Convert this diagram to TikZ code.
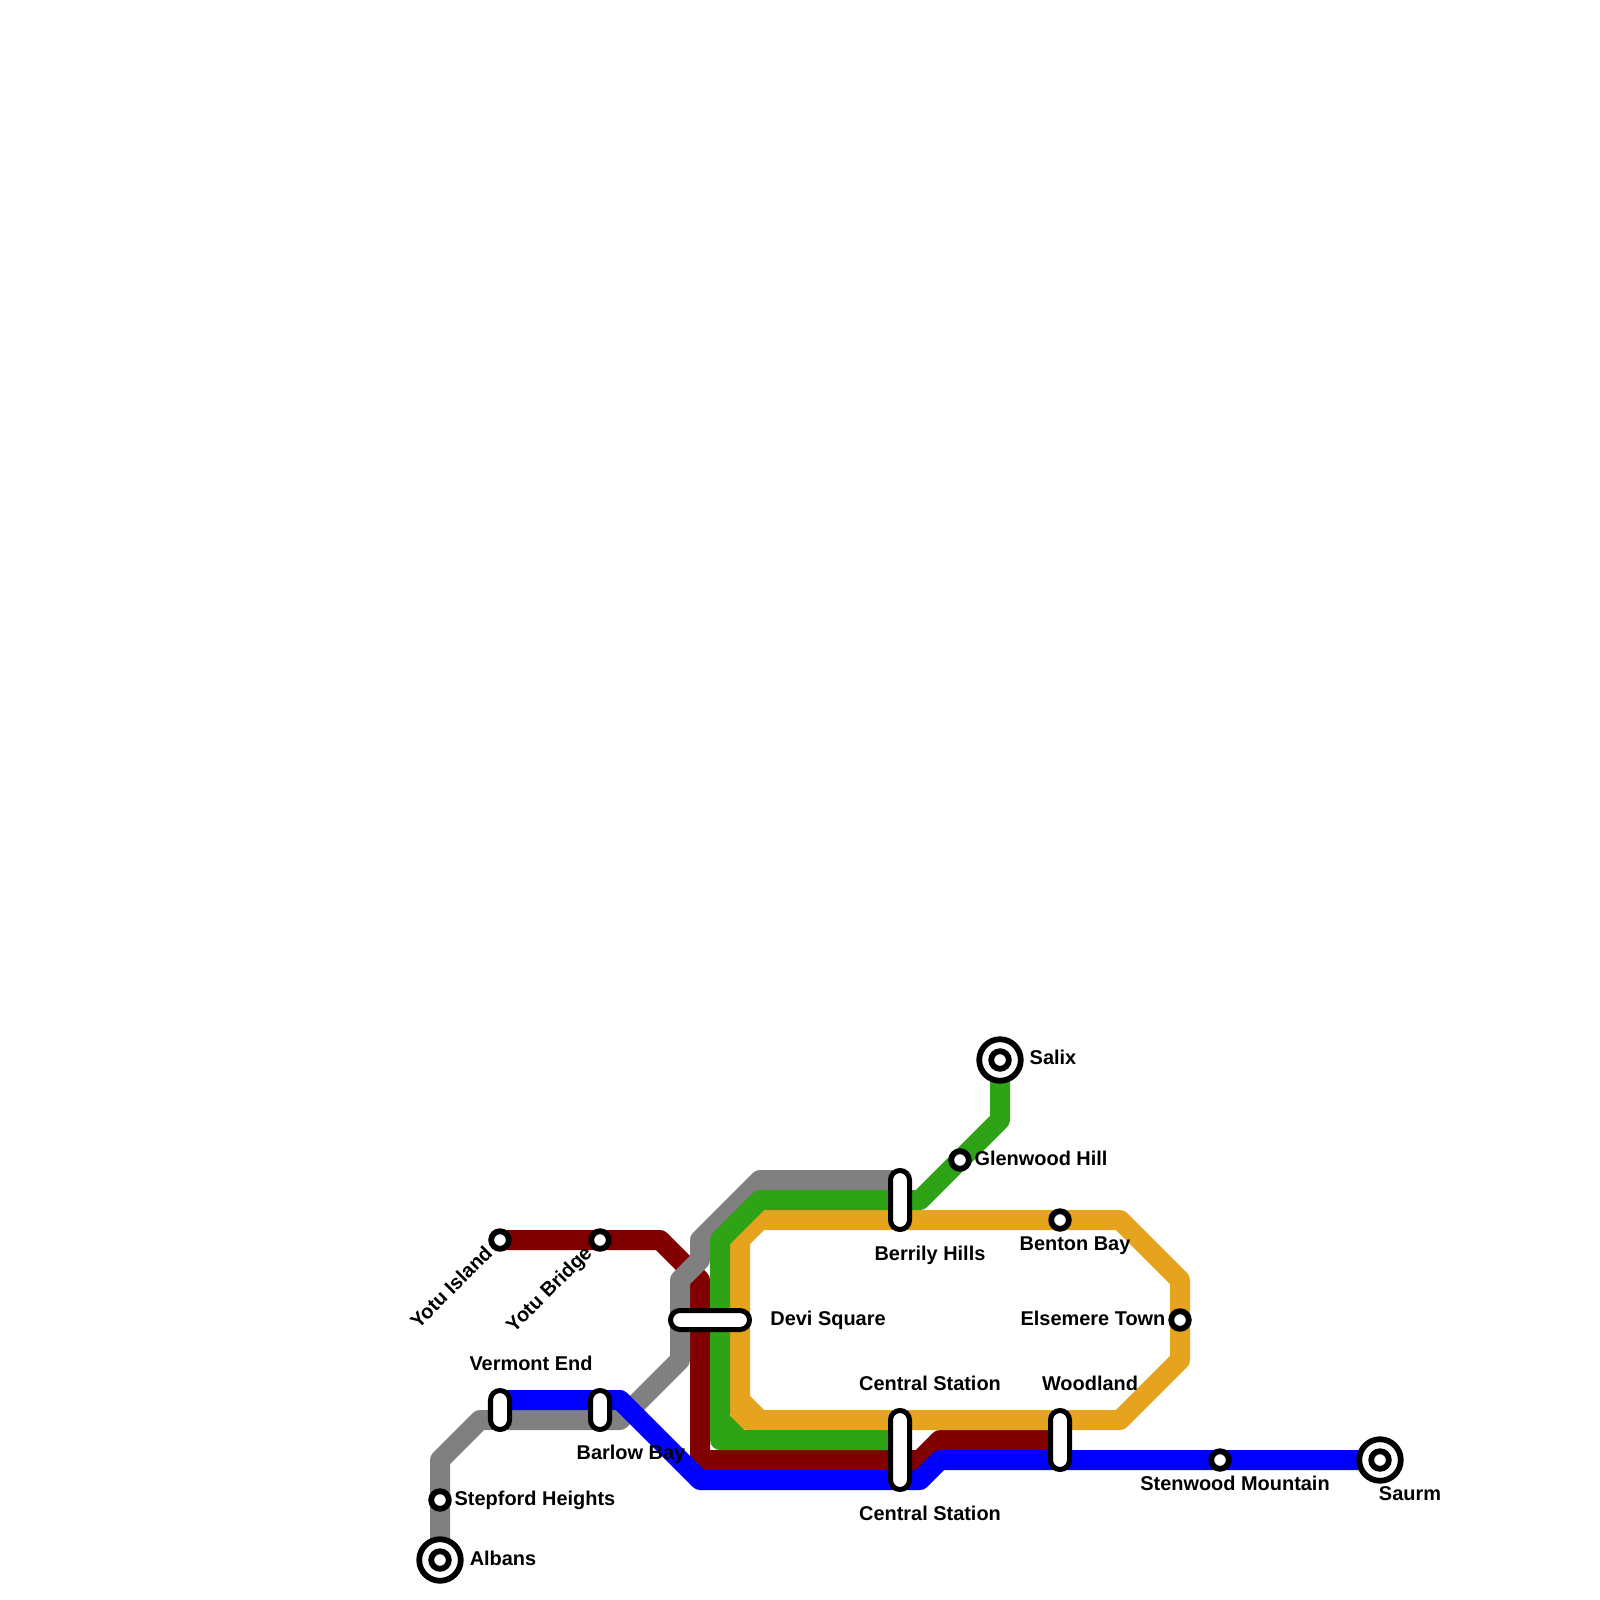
\documentclass[tikz,border=0pt]{standalone}
\usepackage{xcolor}
\usepackage{fontspec}
\setmainfont{Liberation Sans}
\usetikzlibrary{backgrounds}

\begin{document}
\begin{tikzpicture}[x=0.01cm, y=-0.01cm,
    every node/.style={align=center},
    metro/.style={line width=0.2cm, line join=round},
    stopdot/.style={circle, draw=black, fill=white, line width=0.058cm, minimum size=0.176cm, inner sep=0pt},
    stopend/.style={circle, draw=black, fill=white, line width=0.058cm, minimum size=0.415cm, inner sep=0pt},
    capsule/.style={rectangle, draw=black, fill=white, line width=0.05cm, rounded corners=0.095cm, inner sep=0pt},
    upright/.style={capsule, minimum width=0.19cm, minimum height=#1},
    lying/.style={capsule, minimum height=0.19cm, minimum width=#1},
    stoplabel/.style={anchor=base, inner sep=0pt, font=\fontsize{5.67}{7}\selectfont\bfseries}]
      \definecolor{linered}{HTML}{800000} \colorlet{linegrey}{black!50}
      \definecolor{linegreen}{HTML}{2EA316} \definecolor{lineorange}{HTML}{E6A31E}
      \colorlet{lineblue}{blue}
      \useasboundingbox (0, 0) rectangle (1600, 1600);

      % termini
      \foreach \stn/\x/\y in {albans/440/1560, salix/1000/1060, saurm/1380/1460} {
        \node[stopend] (\stn) at (\x, \y) {};
        \node[stopdot] (\stn dot) at (\x, \y) {};
      }
      % plain stops
      \foreach \stn/\x/\y in {yotuisland/500/1240, yotubridge/600/1240, stepford/440/1500,
          glenwood/960/1160, benton/1060/1220, elsemere/1180/1320, stenwood/1220/1460} {
        \node[stopdot] (\stn) at (\x, \y) {};
      }
      % interchanges
      \node[upright=0.39cm] (vermont) at (500, 1410) {};
      \node[upright=0.39cm] (barlow) at (600, 1410) {};
      \node[lying=0.79cm] (devi) at (710, 1320) {};
      \node[upright=0.59cm] (berrily) at (900, 1200) {};
      \node[upright=0.79cm] (central) at (900, 1450) {};
      \node[upright=0.59cm] (woodland) at (1060, 1440) {};

      \begin{scope}[on background layer]
        \draw[metro, draw=linered] (yotuisland.center) -- (660, 1240) -- (700, 1280) -- (700, 1460)
          -- (920, 1460) -- (940, 1440) -- (woodland.center |- 0, 1440);
        \draw[metro, draw=linegrey] (albans.center) -- (440, 1460) -- (480, 1420) -- (620, 1420)
          -- (680, 1360) -- (680, 1280) -- (700, 1260) -- (700, 1240) -- (760, 1180) -- (berrily.center |- 0, 1180);
        \draw[metro, draw=lineorange] (740, 1240) -- (760, 1220) -- (1120, 1220) -- (1180, 1280)
          -- (1180, 1360) -- (1120, 1420) -- (760, 1420) -- (740, 1400) -- cycle
          (740, 1400) -- (740, 1413) -- (747, 1420) -- (760, 1420);
        \draw[metro, draw=linegreen] (salix.center) -- (1000, 1120) -- (920, 1200) -- (760, 1200)
          -- (720, 1240) -- (720, 1440) -- (central.center |- 0, 1440)
          (720, 1420) -- (740, 1440);
        \draw[metro, draw=lineblue] (vermont.center |- 0, 1400) -- (620, 1400) -- (700, 1480) -- (920, 1480)
          -- (940, 1460) -- (saurm.center);
      \end{scope}

      % labels
      \node[stoplabel] (lblvermont) at (531, 1370) {Vermont End};
      \node[stoplabel] (lblbarlow) at (631, 1459) {Barlow Bay};
      \node[stoplabel] (lblstepford) at (535, 1505) {Stepford Heights};
      \node[stoplabel] (lblalbans) at (503, 1565) {Albans};
      \node[stoplabel, anchor=center, rotate=45] (lblyotuisland) at (451, 1287) {Yotu Island};
      \node[stoplabel, anchor=center, rotate=45] (lblyotubridge) at (550, 1290) {Yotu Bridge};
      \node[stoplabel] (lbldevi) at (828, 1325) {Devi Square};
      \node[stoplabel] (lblsalix) at (1053, 1064) {Salix};
      \node[stoplabel] (lblglenwood) at (1041, 1165) {Glenwood Hill};
      \node[stoplabel] (lblberrily) at (930, 1260) {Berrily Hills};
      \node[stoplabel] (lblbenton) at (1075, 1250) {Benton Bay};
      \node[stoplabel] (lblcentraltop) at (930, 1390) {Central Station};
      \node[stoplabel] (lblcentralbot) at (930, 1520) {Central Station};
      \node[stoplabel] (lblwoodland) at (1090, 1390) {Woodland};
      \node[stoplabel] (lblelsemere) at (1093, 1325) {Elsemere Town};
      \node[stoplabel] (lblstenwood) at (1235, 1490) {Stenwood Mountain};
      \node[stoplabel] (lblsaurm) at (1410, 1500) {Saurm};
    \end{tikzpicture}
\end{document}
